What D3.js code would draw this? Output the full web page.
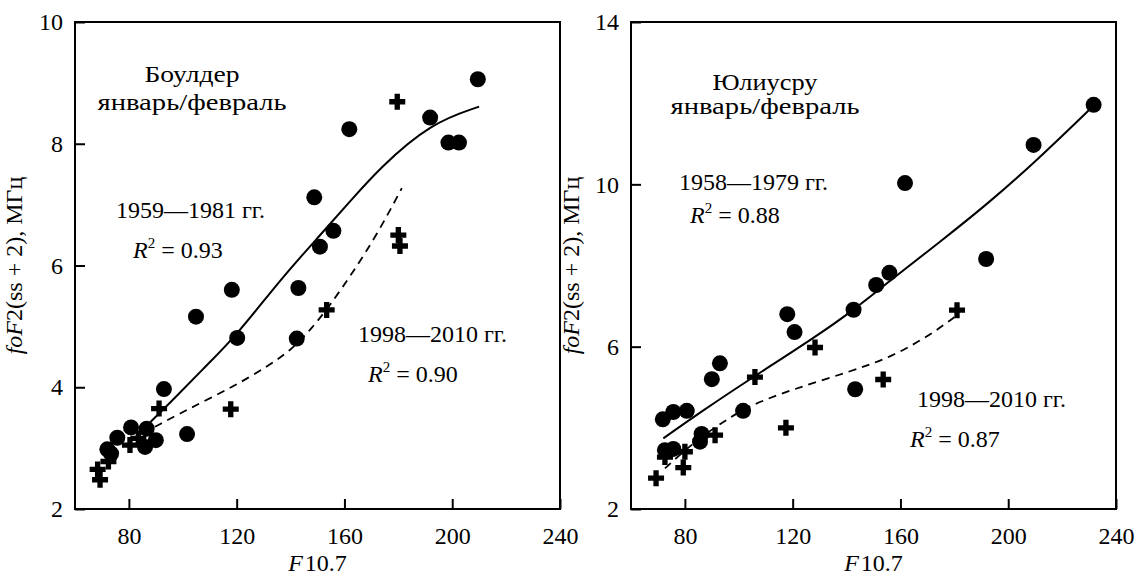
<!DOCTYPE html>
<html>
<head>
<meta charset="utf-8">
<script src="https://cdn.jsdelivr.net/npm/d3@7"></script>
<style>
  body { margin: 0; background: #fff; }
  svg { display: block; }
  text { font-family: "Liberation Serif", "Times New Roman", serif; fill: #000; }
</style>
</head>
<body>
<div id="app"></div>
<script>
// boulder, jan/feb: F10.7 vs foF2(ss+2)
const boulderOld = [ // 1959-1981, circles
  [209.5, 9.06], [191.8, 8.43], [161.8, 8.24], [198.6, 8.02], [202.5, 8.02],
  [148.8, 7.12], [155.9, 6.57], [150.9, 6.31], [142.9, 5.63], [118.2, 5.60],
  [104.9, 5.16], [120.2, 4.81], [142.3, 4.80], [93.0, 3.97], [101.6, 3.23],
  [80.8, 3.34], [86.6, 3.32], [90.0, 3.13], [86.0, 3.02], [75.7, 3.17],
  [72.0, 2.98], [73.4, 2.91]
]
const boulderNew = [ // 1998-2010, crosses
  [179.6, 8.69], [180.0, 6.50], [180.6, 6.32], [153.4, 5.27], [91.2, 3.65],
  [117.8, 3.64], [80.4, 3.05], [83.5, 3.16], [72.4, 2.78], [68.4, 2.65], [69.3, 2.48]
]
// fitted curves
const boulderOldFit = [
  [88, 3.43], [97, 3.82], [107, 4.28], [120, 4.85], [136, 5.76], [151, 6.5],
  [162, 7.05], [173, 7.6], [192, 8.34], [210, 8.61]
]
const boulderNewFit = [
  [89.7, 3.35], [101.5, 3.63], [118.8, 4.01], [131, 4.33], [140, 4.6], [148, 4.97],
  [155, 5.37], [163, 5.88], [172, 6.5], [181.3, 7.27]
]

// juliusruh, jan/feb
const juliusOld = [ // 1958-1979
  [231.7, 11.96], [209.4, 10.97], [161.7, 10.03], [191.8, 8.16], [155.9, 7.82],
  [151.0, 7.52], [142.6, 6.91], [118.0, 6.80], [120.7, 6.36], [93.0, 5.59],
  [90.0, 5.20], [101.6, 4.42], [143.2, 4.95], [71.8, 4.21], [75.7, 4.39],
  [80.7, 4.42], [86.2, 3.85], [85.6, 3.66], [72.6, 3.45], [75.7, 3.48]
]
const juliusNew = [ // 1998-2010
  [181.0, 6.90], [128.3, 5.98], [106.0, 5.25], [153.6, 5.19], [117.5, 4.00],
  [91.2, 3.82], [80.0, 3.41], [72.6, 3.28], [79.4, 3.02], [69.3, 2.76]
]
const juliusOldFit = [
  [72, 3.74], [86, 4.40], [106, 5.28], [128, 6.22], [143, 6.92], [156, 7.62],
  [175, 8.6], [192, 9.5], [210, 10.55], [230, 11.83]
]
const juliusNewFit = [
  [72.6, 3.0], [80, 3.45], [88, 3.87], [96, 4.22], [104, 4.55], [120, 4.95],
  [141, 5.38], [157, 5.75], [172, 6.33], [180.3, 6.74]
]

const xTicks = [80, 120, 160, 200, 240]
const yTicksBoulder = [2, 4, 6, 8, 10]
const yTicksJulius = [2, 6, 10, 14]

const W = 1137, H = 578
const FS = 24

const svg = d3.select('#app').append('svg')
  .attr('width', W).attr('height', H)

// r-squared label with italic R and superscript 2
const r2 = (g, x, y, val) => {
  const t = g.append('text').attr('x', x).attr('y', y).style('font-size', `${FS}px`)
  t.append('tspan').style('font-style', 'italic').text('R')
  t.append('tspan').attr('dy', -10).style('font-size', '15px').text('2')
  t.append('tspan').attr('dy', 10).text(` = ${val}`)
}

const drawPanel = (p) => {
  const x = d3.scaleLinear().domain([60, 240]).range([p.left, p.right])
  const y = d3.scaleLinear().domain(p.yDomain).range([p.bottom, p.top])
  const g = svg.append('g')

  // frame
  g.append('rect')
    .attr('x', p.left).attr('y', p.top)
    .attr('width', p.right - p.left).attr('height', p.bottom - p.top)
    .attr('fill', 'none').attr('stroke', '#000').attr('stroke-width', 2)

  // axes, ticks point inward
  const xAxis = g.append('g').attr('transform', `translate(0,${p.bottom})`)
    .call(d3.axisBottom(x).tickValues(xTicks).tickSizeInner(-10).tickSizeOuter(0).tickPadding(18))
  const yAxis = g.append('g').attr('transform', `translate(${p.left},0)`)
    .call(d3.axisLeft(y).tickValues(p.yTicks).tickSizeInner(-10).tickSizeOuter(0).tickPadding(12))
  for (const a of [xAxis, yAxis]) {
    a.attr('font-family', null)
    a.select('.domain').remove()
    a.selectAll('line').attr('stroke', '#000').attr('stroke-width', 2)
    a.selectAll('text').style('font-size', `${FS}px`)
  }

  // fit curves
  const line = d3.line().x(d => x(d[0])).y(d => y(d[1])).curve(d3.curveBasis)
  g.append('path').datum(p.oldFit).attr('d', line)
    .attr('fill', 'none').attr('stroke', '#000').attr('stroke-width', 2)
  g.append('path').datum(p.newFit).attr('d', line)
    .attr('fill', 'none').attr('stroke', '#000').attr('stroke-width', 1.8)
    .attr('stroke-dasharray', '8,6')

  // points
  g.selectAll('circle.old').data(p.oldPts).join('circle')
    .attr('class', 'old')
    .attr('cx', d => x(d[0])).attr('cy', d => y(d[1])).attr('r', 8)
    .attr('fill', '#000')
  const cross = d3.symbol().type(d3.symbolCross).size(5 * Math.pow(16 / 3, 2))
  g.selectAll('path.new').data(p.newPts).join('path')
    .attr('class', 'new')
    .attr('transform', d => `translate(${x(d[0])},${y(d[1])})`)
    .attr('d', cross).attr('fill', '#000')

  // axis titles
  const xt = g.append('text')
    .attr('x', (p.left + p.right) / 2).attr('y', 571)
    .attr('text-anchor', 'middle').style('font-size', `${FS}px`)
  xt.append('tspan').style('font-style', 'italic').text('F')
  xt.append('tspan').text('\u200a10.7')

  const yt = g.append('text')
    .attr('transform', `translate(${p.left - p.yTitleOff},${(p.top + p.bottom) / 2}) rotate(-90)`)
    .attr('text-anchor', 'middle').style('font-size', `${FS}px`)
  yt.append('tspan').style('font-style', 'italic').text('foF')
  yt.append('tspan').text('2(ss + 2), МГц')

  // annotations; the cyrillic face in the original runs wider, so pin widths
  for (const [i, s] of p.station.entries()) {
    g.append('text').attr('x', p.left + p.stationX).attr('y', p.stationY[i])
      .attr('text-anchor', 'middle').style('font-size', `${FS}px`)
      .attr('textLength', p.stationW[i]).attr('lengthAdjust', 'spacingAndGlyphs')
      .text(s)
  }
  g.append('text').attr('x', p.left + p.oldLbl[0]).attr('y', p.oldLbl[1])
    .style('font-size', `${FS}px`).text(p.oldYears)
  r2(g, p.left + p.oldR2[0], p.oldR2[1], p.oldR2v)
  g.append('text').attr('x', p.left + p.newLbl[0]).attr('y', p.newLbl[1])
    .style('font-size', `${FS}px`).text('1998—2010 гг.')
  r2(g, p.left + p.newR2[0], p.newR2[1], p.newR2v)
}

drawPanel({
  left: 75, right: 560, top: 22, bottom: 509,
  yDomain: [2, 10], yTicks: yTicksBoulder, yTitleOff: 53,
  oldPts: boulderOld, newPts: boulderNew, oldFit: boulderOldFit, newFit: boulderNewFit,
  station: ['Боулдер', 'январь/февраль'], stationX: 117, stationY: [82, 110], stationW: [95, 189],
  oldYears: '1959—1981 гг.', oldLbl: [41, 218], oldR2: [58, 258], oldR2v: '0.93',
  newLbl: [283, 342], newR2: [293, 382], newR2v: '0.90'
})

drawPanel({
  left: 631, right: 1116, top: 22, bottom: 509,
  yDomain: [2, 14], yTicks: yTicksJulius, yTitleOff: 52,
  oldPts: juliusOld, newPts: juliusNew, oldFit: juliusOldFit, newFit: juliusNewFit,
  station: ['Юлиусру', 'январь/февраль'], stationX: 134, stationY: [90, 114], stationW: [105, 189],
  oldYears: '1958—1979 гг.', oldLbl: [48, 190], oldR2: [59, 223], oldR2v: '0.88',
  newLbl: [286, 407], newR2: [279, 447], newR2v: '0.87'
})
</script>
</body>
</html>
